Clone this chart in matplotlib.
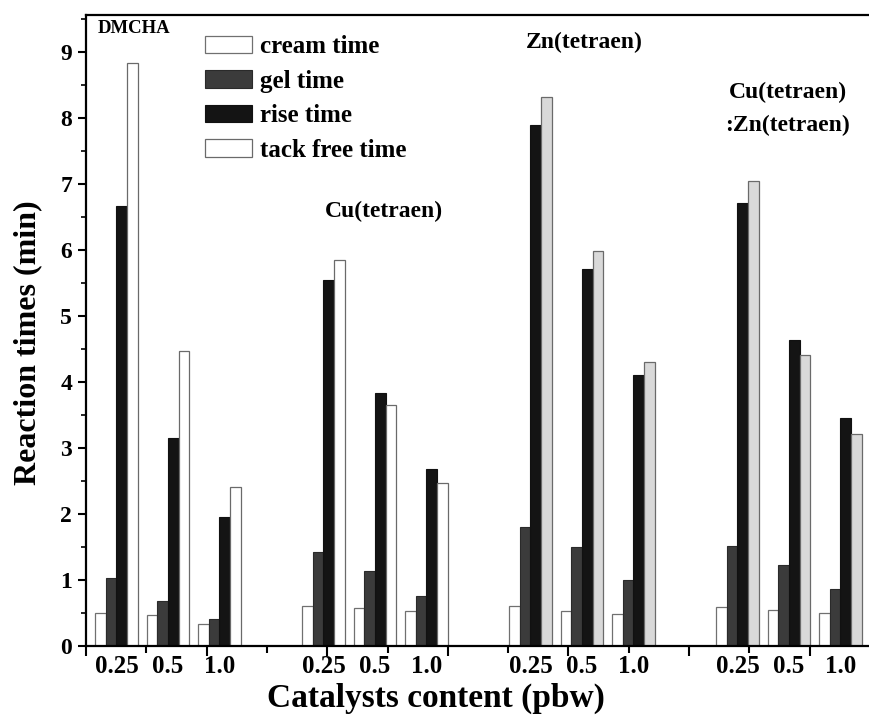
import matplotlib

matplotlib.use("Agg")
import matplotlib.pyplot as plt
import numpy as np
from matplotlib.patches import Patch
from matplotlib.ticker import MultipleLocator

# catalyst systems and contents (pbw)
groups = ["DMCHA", "Cu(tetraen)", "Zn(tetraen)", "Cu(tetraen)\n:Zn(tetraen)"]
contents = ["0.25", "0.5", "1.0"]

# reaction times (min), ordered group by group, 0.25 / 0.5 / 1.0 within each
cream = [0.50, 0.47, 0.34, 0.61, 0.57, 0.53, 0.61, 0.53, 0.48, 0.59, 0.55, 0.50]
gel = [1.03, 0.68, 0.41, 1.42, 1.14, 0.76, 1.80, 1.50, 1.00, 1.52, 1.23, 0.87]
rise = [6.66, 3.15, 1.96, 5.55, 3.84, 2.68, 7.90, 5.71, 4.11, 6.71, 4.64, 3.46]
tack = [8.83, 4.47, 2.41, 5.85, 3.65, 2.47, 8.32, 5.98, 4.31, 7.05, 4.41, 3.21]

plt.rcParams["font.family"] = ["Liberation Serif", "DejaVu Serif"]
plt.rcParams["font.weight"] = "bold"

fig = plt.figure(figsize=(8.69, 7.18), dpi=100)
ax = fig.add_axes([0.099, 0.1003, 0.901, 0.8788])

# layout in axis units (1 unit = spacing of x ticks)
w = 0.178
sub_step = 0.854
group_step = 3.433
x0 = 0.149
n_sub = len(contents)
left = np.array([x0 + g * group_step + s * sub_step
                 for g in range(len(groups)) for s in range(n_sub)])

tack_fill = ["white"] * 6 + ["#d9d9d9"] * 6

ax.bar(left, cream, w, align="edge", color="white", edgecolor="#707070", lw=0.9)
ax.bar(left + w, gel, w, align="edge", color="#3b3b3b", edgecolor="#2a2a2a", lw=0.8)
ax.bar(left + 2 * w, rise, w, align="edge", color="#141414", edgecolor="#111111", lw=0.8)
ax.bar(left + 3 * w, tack, w, align="edge", color=tack_fill, edgecolor="#6a6a6a", lw=0.9)

# content labels under every sub-group
centers = left + 2 * w
for i, c in enumerate(centers):
    ax.text(c, -0.015, contents[i % n_sub], transform=ax.get_xaxis_transform(),
            ha="center", va="top", fontsize=18, fontweight="bold")

# catalyst names
ax.text(0.199, 9.36, groups[0], ha="left", va="center", fontsize=13.5, fontweight="bold")
ax.text(4.94, 6.58, groups[1], ha="center", va="center", fontsize=17, fontweight="bold")
ax.text(8.26, 9.14, groups[2], ha="center", va="center", fontsize=17, fontweight="bold")
ax.text(11.64, 8.14, groups[3], ha="center", va="center", fontsize=17,
        fontweight="bold", linespacing=1.75, multialignment="center")

ax.set_xlim(0, 12.985)
ax.set_ylim(0, 9.56)
ax.xaxis.set_major_locator(MultipleLocator(2))
ax.xaxis.set_minor_locator(MultipleLocator(1))
ax.set_xticklabels([])
ax.yaxis.set_major_locator(MultipleLocator(1))
ax.yaxis.set_minor_locator(MultipleLocator(0.5))
ax.tick_params(axis="x", which="major", direction="out", length=7, width=1.5, labelbottom=False)
ax.tick_params(axis="x", which="minor", direction="out", length=5, width=1.5)
ax.tick_params(axis="y", which="major", direction="out", length=6, width=1.5,
               labelsize=17, pad=4)
ax.tick_params(axis="y", which="minor", direction="out", length=3.5, width=1.2)
for lab in ax.get_yticklabels():
    lab.set_fontweight("bold")

for side in ["left", "bottom", "top"]:
    ax.spines[side].set_linewidth(1.6)
ax.spines["right"].set_visible(False)

ax.set_ylabel("Reaction times (min)", fontsize=23, fontweight="bold")
ax.yaxis.set_label_coords(-0.056, 0.48)
ax.set_xlabel("Catalysts content (pbw)", fontsize=24, fontweight="bold")
ax.xaxis.set_label_coords(0.447, -0.058)

handles = [
    Patch(facecolor="white", edgecolor="#707070", lw=0.9),
    Patch(facecolor="#3b3b3b", edgecolor="#2a2a2a", lw=0.8),
    Patch(facecolor="#141414", edgecolor="#111111", lw=0.8),
    Patch(facecolor="white", edgecolor="#6a6a6a", lw=0.9),
]
ax.legend(handles, ["cream time", "gel time", "rise time", "tack free time"],
          loc="upper left", bbox_to_anchor=(0.152, 0.968), frameon=False,
          fontsize=18, handlelength=1.88, handleheight=0.68, handletextpad=0.32,
          labelspacing=0.46, borderpad=0, borderaxespad=0)

fig.savefig("out.png", dpi=100)
